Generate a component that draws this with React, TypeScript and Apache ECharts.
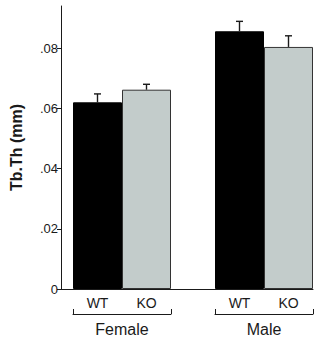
import React, { useEffect, useRef } from "react";
import * as echarts from "echarts";

// Trabecular thickness by sex and genotype
const groups = ["Female", "Male"];
const genotypes = ["WT", "KO"];
const wtValues = [0.062, 0.0856];
const koValues = [0.0662, 0.0804];
const wtErrors = [0.0028, 0.0033];
const koErrors = [0.0018, 0.0037];
const yTicks = [0, 0.02, 0.04, 0.06, 0.08];
const yMax = 0.094;

const FONT = "Liberation Sans, Arial, Helvetica, sans-serif";
const INK = "#1a1a1a";
const WT_COLOR = "#000000";
const KO_COLOR = "#c3cccb";

const fmt = (v: number) => (v === 0 ? "0" : v.toFixed(2).replace(/^0/, ""));

export default function App() {
  const ref = useRef<HTMLDivElement>(null);

  useEffect(() => {
    if (!ref.current) return;
    const chart = echarts.init(ref.current, undefined, { renderer: "svg" });

    const top = 6;
    const bottom = 49;
    // Group panels share the value scale of the main axes panel
    const panels = [
      { left: 73, width: 98 },
      { left: 215, width: 98 },
    ];

    const grids: any[] = [{ left: 56, right: 14, top, bottom }];
    panels.forEach((p) => grids.push({ left: p.left, width: p.width, top, bottom }));

    const xAxes: any[] = [
      {
        gridIndex: 0,
        type: "value",
        min: 0,
        max: 1,
        axisLine: { show: true, onZero: false, lineStyle: { color: INK, width: 1 } },
        axisTick: { show: false },
        axisLabel: { show: false },
        splitLine: { show: false },
      },
    ];
    const yAxes: any[] = [
      {
        gridIndex: 0,
        type: "value",
        min: 0,
        max: yMax,
        name: "Tb.Th (mm)",
        nameLocation: "middle",
        nameRotate: 90,
        nameGap: 37,
        nameTextStyle: { fontFamily: FONT, fontSize: 16, fontWeight: "bold", color: INK },
        axisLine: { show: true, lineStyle: { color: INK, width: 1 } },
        axisTick: {
          show: true,
          length: 4,
          customValues: yTicks,
          lineStyle: { color: INK, width: 1 },
        },
        axisLabel: {
          customValues: yTicks,
          margin: 3,
          formatter: fmt,
          fontFamily: FONT,
          fontSize: 13,
          color: INK,
        },
        splitLine: { show: false },
      },
    ];

    const series: any[] = [];

    groups.forEach((g, i) => {
      const gi = i + 1;
      xAxes.push({
        gridIndex: gi,
        type: "category",
        data: genotypes,
        position: "bottom",
        axisLine: { show: false },
        axisTick: { show: false },
        axisLabel: { margin: 7, fontFamily: FONT, fontSize: 14, color: INK },
      });
      xAxes.push({
        gridIndex: gi,
        type: "category",
        data: [g],
        position: "bottom",
        offset: 25,
        axisLine: { show: true, lineStyle: { color: INK, width: 1 } },
        axisTick: { show: true, inside: true, length: 5, lineStyle: { color: INK, width: 1 } },
        axisLabel: { margin: 7, fontFamily: FONT, fontSize: 16, color: INK },
      });
      yAxes.push({
        gridIndex: gi,
        type: "value",
        min: 0,
        max: yMax,
        show: false,
      });

      const xIdx = xAxes.length - 2;
      const yIdx = yAxes.length - 1;

      series.push({
        type: "bar",
        xAxisIndex: xIdx,
        yAxisIndex: yIdx,
        barCategoryGap: "0%",
        data: [
          { value: wtValues[i], itemStyle: { color: WT_COLOR, borderColor: "#000", borderWidth: 1 } },
          { value: koValues[i], itemStyle: { color: KO_COLOR, borderColor: "#333", borderWidth: 1 } },
        ],
      });

      series.push({
        type: "custom",
        xAxisIndex: xIdx,
        yAxisIndex: yIdx,
        data: [
          [0, wtValues[i], wtErrors[i]],
          [1, koValues[i], koErrors[i]],
        ],
        renderItem: (params: any, api: any) => {
          const c = api.value(0);
          const v = api.value(1);
          const e = api.value(2);
          const base = api.coord([c, v]);
          const tip = api.coord([c, v + e]);
          const half = 3.5;
          const style = { stroke: INK, lineWidth: 1.4 };
          return {
            type: "group",
            children: [
              { type: "line", shape: { x1: base[0], y1: base[1], x2: tip[0], y2: tip[1] }, style },
              { type: "line", shape: { x1: tip[0] - half, y1: tip[1], x2: tip[0] + half, y2: tip[1] }, style },
            ],
          };
        },
        z: 3,
      });
    });

    chart.setOption({
      animation: false,
      backgroundColor: "#ffffff",
      grid: grids,
      xAxis: xAxes,
      yAxis: yAxes,
      series,
    });

    return () => chart.dispose();
  }, []);

  return (
    <div
      ref={ref}
      style={{ position: "fixed", left: 0, top: 0, width: 327, height: 338, background: "#fff" }}
    />
  );
}
